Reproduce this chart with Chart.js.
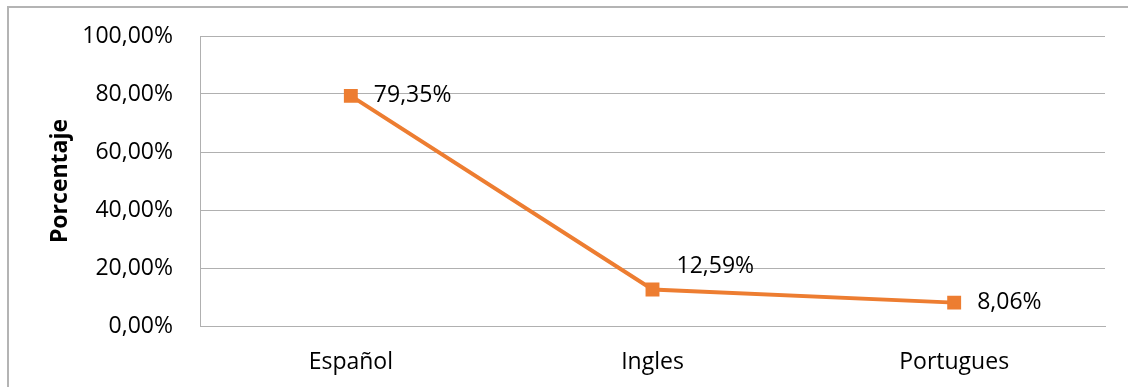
<!DOCTYPE html>
<html>
<head>
<meta charset="utf-8">
<script src="https://cdn.jsdelivr.net/npm/chart.js@4.4.1/dist/chart.umd.min.js"></script>
<style>
  html, body { margin: 0; padding: 0; background: #fff; overflow: hidden; }
  #frame {
    position: absolute; left: 7px; top: 6px; width: 1200px; height: 420px;
    border-left: 2px solid #b4b4b4; border-top: 2px solid #b4b4b4;
  }
  #wrap { position: absolute; left: 0; top: 0; width: 1128px; height: 387px; }
</style>
</head>
<body>
<div id="frame"></div>
<div id="wrap"><canvas id="c" width="1128" height="387"></canvas></div>
<script>
// Idioma de los contenidos
const categories = ['Español', 'Ingles', 'Portugues'];
const porcentajes = [79.35, 12.59, 8.06];
const yTicks = [0, 20, 40, 60, 80, 100];

const FONT = '"Open Sans", sans-serif';
const fmt = v => v.toFixed(2).replace('.', ',') + '%';

// Etiquetas de valor junto a cada marcador
const valueLabels = {
  id: 'valueLabels',
  afterDatasetsDraw(chart, args, opts) {
    const { ctx } = chart;
    const meta = chart.getDatasetMeta(0);
    ctx.save();
    ctx.font = '23px ' + FONT;
    ctx.fillStyle = '#000';
    ctx.textAlign = 'left';
    ctx.textBaseline = 'middle';
    meta.data.forEach((pt, i) => {
      const off = opts.offsets[i];
      const v = chart.data.datasets[0].data[i];
      ctx.fillText(fmt(v), pt.x + off[0], pt.y + off[1]);
    });
    ctx.restore();
  }
};

new Chart(document.getElementById('c'), {
  type: 'line',
  data: {
    labels: categories,
    datasets: [{
      data: porcentajes,
      borderColor: '#ED7D31',
      backgroundColor: '#ED7D31',
      borderWidth: 4,
      pointStyle: 'rect',
      pointRadius: 7,
      pointHoverRadius: 7,
      tension: 0
    }]
  },
  options: {
    responsive: false,
    animation: false,
    events: [],
    layout: { padding: { left: 47, top: 36, right: 23, bottom: 0 } },
    plugins: {
      legend: { display: false },
      tooltip: { enabled: false },
      valueLabels: { offsets: [[23, 0], [24, -23], [23, 0]] }
    },
    scales: {
      x: {
        offset: true,
        grid: { display: false, drawTicks: false },
        border: { color: '#b0b0b0', width: 1 },
        ticks: { color: '#000', font: { family: FONT, size: 23 }, padding: 23 },
        afterFit: s => { s.height = 61; }
      },
      y: {
        min: 0, max: 100,
        afterBuildTicks: s => { s.ticks = yTicks.map(v => ({ value: v })); },
        grid: { color: '#b0b0b0', lineWidth: 1, drawTicks: false },
        border: { color: '#b0b0b0', width: 1 },
        ticks: {
          color: '#000', font: { family: FONT, size: 23 }, padding: 27,
          callback: v => fmt(v)
        },
        title: {
          display: true, text: 'Porcentaje', color: '#000',
          font: { family: FONT, size: 23, weight: 'bold' },
          padding: { top: 0, bottom: 0 }
        },
        afterFit: s => { s.width = 153; s.paddingTop = 0; s.paddingBottom = 0; }
      }
    }
  },
  plugins: [valueLabels]
});
</script>
</body>
</html>
